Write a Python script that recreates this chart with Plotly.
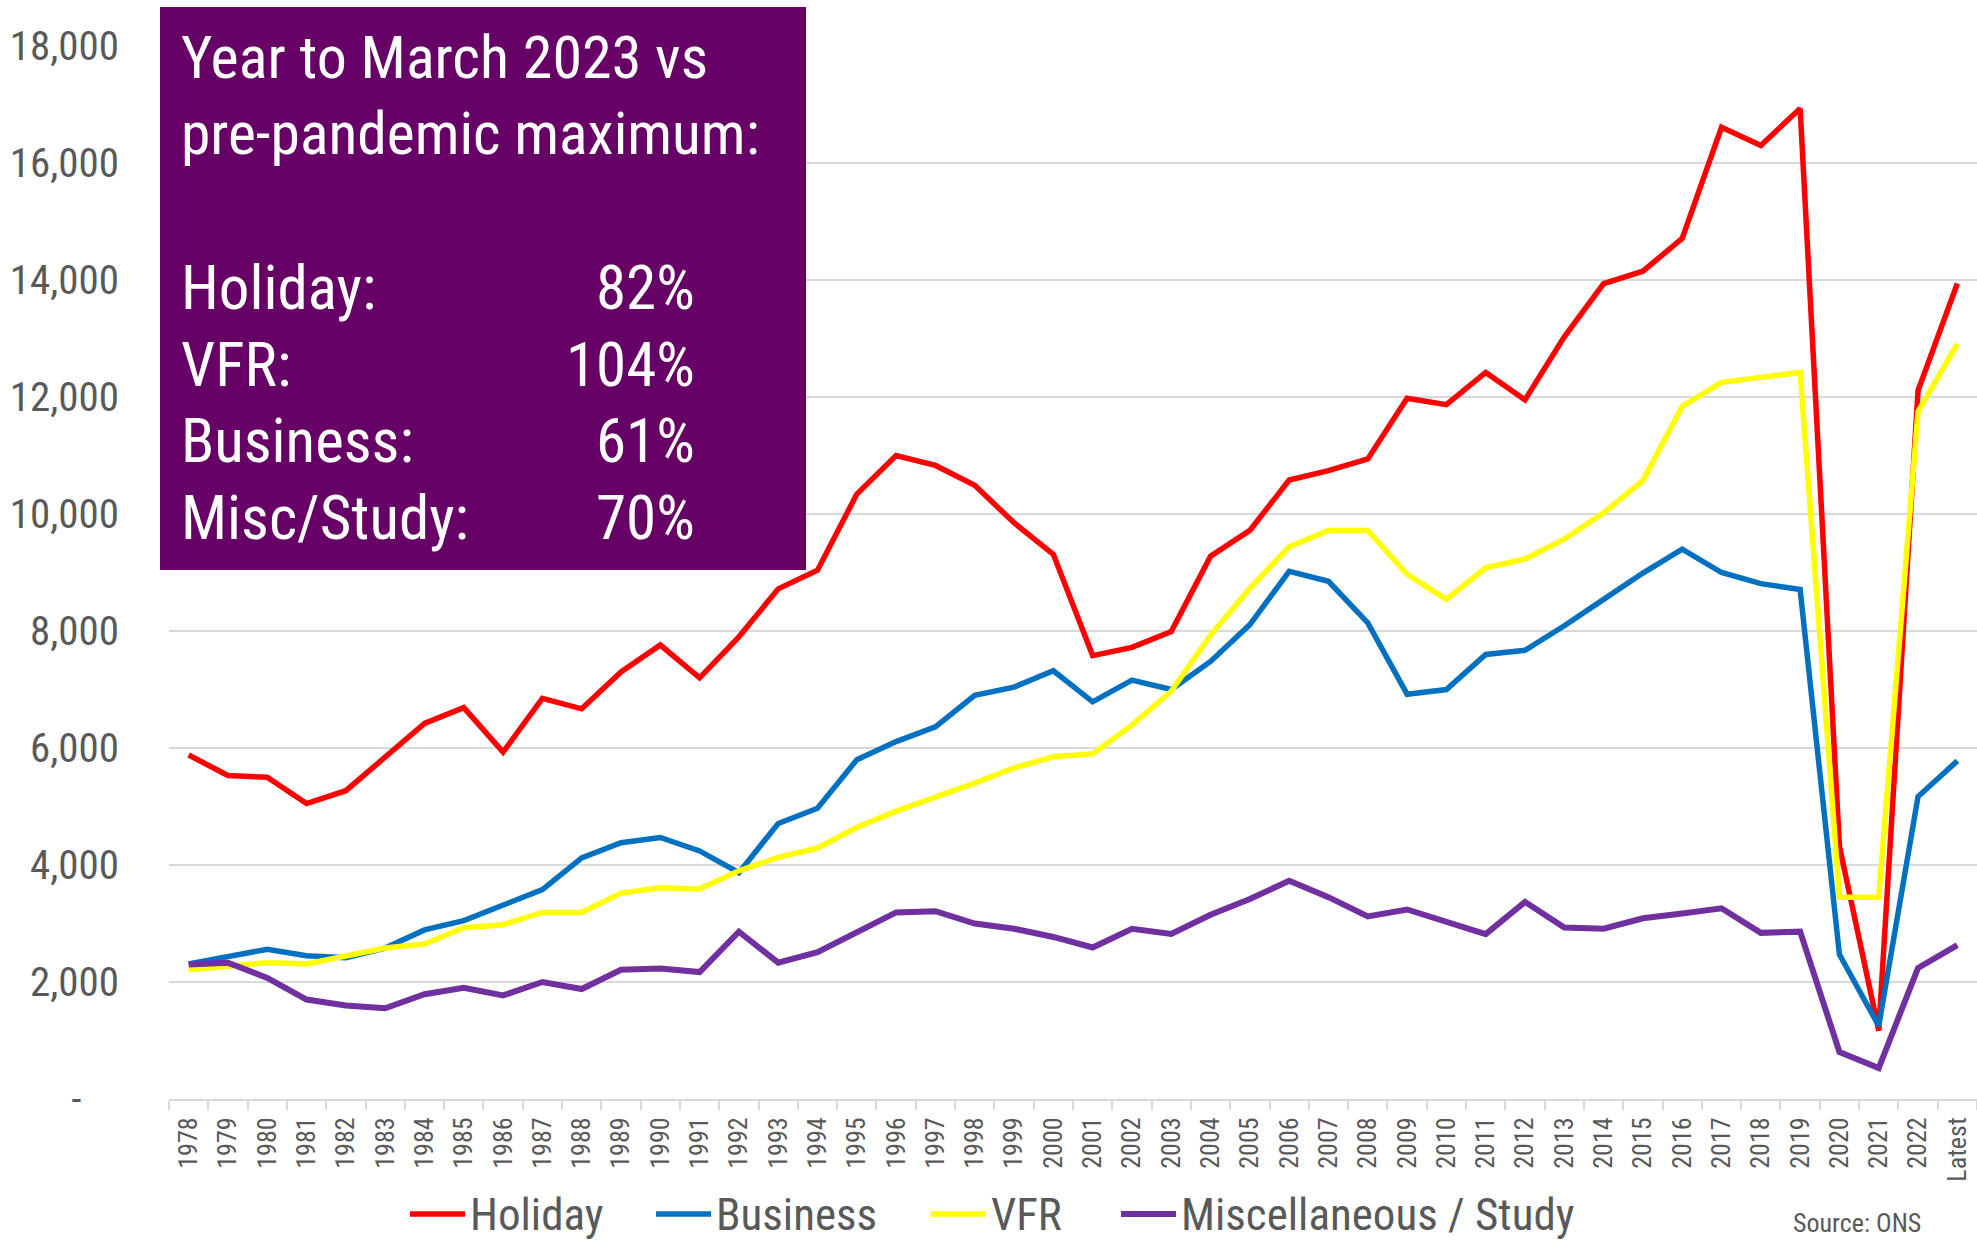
import plotly.graph_objects as go

categories = ["1978", "1979", "1980", "1981", "1982", "1983", "1984", "1985", "1986", "1987",
              "1988", "1989", "1990", "1991", "1992", "1993", "1994", "1995", "1996", "1997",
              "1998", "1999", "2000", "2001", "2002", "2003", "2004", "2005", "2006", "2007",
              "2008", "2009", "2010", "2011", "2012", "2013", "2014", "2015", "2016", "2017",
              "2018", "2019", "2020", "2021", "2022", "Latest"]

holiday = [5880, 5530, 5500, 5050, 5270, 5830, 6420, 6690, 5930, 6850,
           6670, 7300, 7760, 7200, 7900, 8720, 9040, 10340, 11000, 10830,
           10490, 9850, 9310, 7580, 7720, 7990, 9280, 9720, 10580, 10740,
           10940, 11980, 11870, 12420, 11950, 13030, 13940, 14150, 14710, 16610,
           16300, 16930, 4320, 1170, 12110, 13940]

business = [2310, 2440, 2560, 2450, 2415, 2580, 2890, 3050, 3310, 3580,
            4120, 4380, 4470, 4240, 3870, 4710, 4970, 5800, 6110, 6360,
            6900, 7040, 7320, 6790, 7160, 7000, 7480, 8110, 9020, 8850,
            8140, 6920, 7000, 7600, 7670, 8090, 8540, 8990, 9400, 9000,
            8810, 8710, 2470, 1250, 5170, 5780]

vfr = [2210, 2275, 2330, 2310, 2440, 2580, 2650, 2930, 2980, 3190,
       3190, 3520, 3610, 3590, 3900, 4130, 4290, 4640, 4920, 5150,
       5400, 5660, 5850, 5900, 6390, 6970, 7930, 8730, 9440, 9720,
       9720, 8970, 8540, 9080, 9230, 9570, 10020, 10570, 11840, 12250,
       12340, 12420, 3450, 3450, 11750, 12910]

misc = [2300, 2330, 2070, 1700, 1600, 1550, 1790, 1900, 1770, 2000,
        1880, 2210, 2230, 2170, 2860, 2330, 2510, 2860, 3190, 3210,
        3000, 2910, 2770, 2590, 2910, 2820, 3150, 3420, 3730, 3450,
        3120, 3240, 3030, 2820, 3370, 2930, 2910, 3090, 3170, 3260,
        2840, 2860, 805, 530, 2240, 2630]

y_tickvals = [0, 2000, 4000, 6000, 8000, 10000, 12000, 14000, 16000, 18000]
y_ticktext = ["-\u00a0\u00a0\u00a0\u00a0", "2,000", "4,000", "6,000", "8,000", "10,000",
              "12,000", "14,000", "16,000", "18,000"]

box_labels = ["Year to March 2023 vs", "pre-pandemic maximum:", "Holiday:", "VFR:", "Business:", "Misc/Study:"]
box_values = ["", "", "82%", "104%", "61%", "70%"]

FONT = "Roboto Condensed, Liberation Sans, Arial, sans-serif"
GREY = "#595959"
W, H = 1977, 1242
ML, MR, MT, MB = 169, 0, 46, 143
PW = W - ML - MR
PH = H - MT - MB


def px_x(p):
    return (p - ML) / PW


def px_y(p):
    return (H - MB - p) / PH


fig = go.Figure()
series = [
    ("Holiday", holiday, "#FF0000", 5.5, 410),
    ("Business", business, "#0070C0", 5.5, 656),
    ("VFR", vfr, "#FFFF00", 5.5, 931),
    ("Miscellaneous / Study", misc, "#7030A0", 6, 1121),
]
annotations = []
shapes = []
for name, vals, color, w, lx in series:
    fig.add_trace(go.Scatter(x=categories, y=vals, name=name, mode="lines",
                             line=dict(color=color, width=w), showlegend=False))
    # legend entry: sample line + label
    shapes.append(dict(type="line", xref="paper", yref="paper",
                       x0=px_x(lx), x1=px_x(lx + 55), y0=px_y(1214), y1=px_y(1214),
                       line=dict(color=color, width=w)))
    annotations.append(dict(text=name, xref="paper", yref="paper", x=px_x(lx + 58), y=px_y(1214),
                            xanchor="left", yanchor="middle", showarrow=False,
                            font=dict(family=FONT, size=45, color=GREY)))

# purple text box
shapes.append(dict(type="rect", xref="paper", yref="paper",
                   x0=px_x(160), x1=px_x(806), y0=px_y(570), y1=px_y(7),
                   fillcolor="#660066", line=dict(width=0), layer="above"))

centers = [57.5, 134, 288, 365, 441, 518]
sizes = [60, 59.5, 61, 61, 61, 61]
for lab, val, cy, fs in zip(box_labels, box_values, centers, sizes):
    annotations.append(dict(text=lab, xref="paper", yref="paper", x=px_x(179), y=px_y(cy),
                            xanchor="left", yanchor="middle", showarrow=False,
                            font=dict(family=FONT, size=fs, color="white")))
    if val:
        annotations.append(dict(text=val, xref="paper", yref="paper", x=px_x(697), y=px_y(cy),
                                xanchor="right", yanchor="middle", showarrow=False,
                                font=dict(family=FONT, size=fs, color="white")))

annotations.append(dict(text="Source: ONS", xref="paper", yref="paper", x=px_x(1923), y=px_y(1223),
                        xanchor="right", yanchor="middle", showarrow=False,
                        font=dict(family=FONT, size=26, color=GREY)))

fig.update_layout(
    width=W, height=H,
    margin=dict(l=ML, r=MR, t=MT, b=MB, pad=0, autoexpand=False),
    paper_bgcolor="white", plot_bgcolor="white",
    font=dict(family=FONT, color=GREY),
    annotations=annotations,
    shapes=shapes,
    showlegend=False,
    xaxis=dict(type="category", range=[-0.5, len(categories) - 0.5], tickangle=-90,
               tickfont=dict(family=FONT, size=26, color=GREY),
               showline=True, linecolor="#D9D9D9", linewidth=2, showgrid=False,
               ticks="outside", tickson="boundaries", ticklen=9, tickcolor="#D9D9D9", tickwidth=2,
               ticklabelstandoff=6, zeroline=False, fixedrange=True, automargin=False),
    yaxis=dict(range=[0, 18000], tickvals=y_tickvals, ticktext=y_ticktext,
               tickfont=dict(family=FONT, size=41, color=GREY),
               showgrid=True, gridcolor="#D9D9D9", gridwidth=2, zeroline=False,
               showline=False, ticks="", ticklabelstandoff=49, fixedrange=True, automargin=False),
)

fig.write_html("out.html", post_script="document.body.style.margin='0';",
               config={"displayModeBar": False})
